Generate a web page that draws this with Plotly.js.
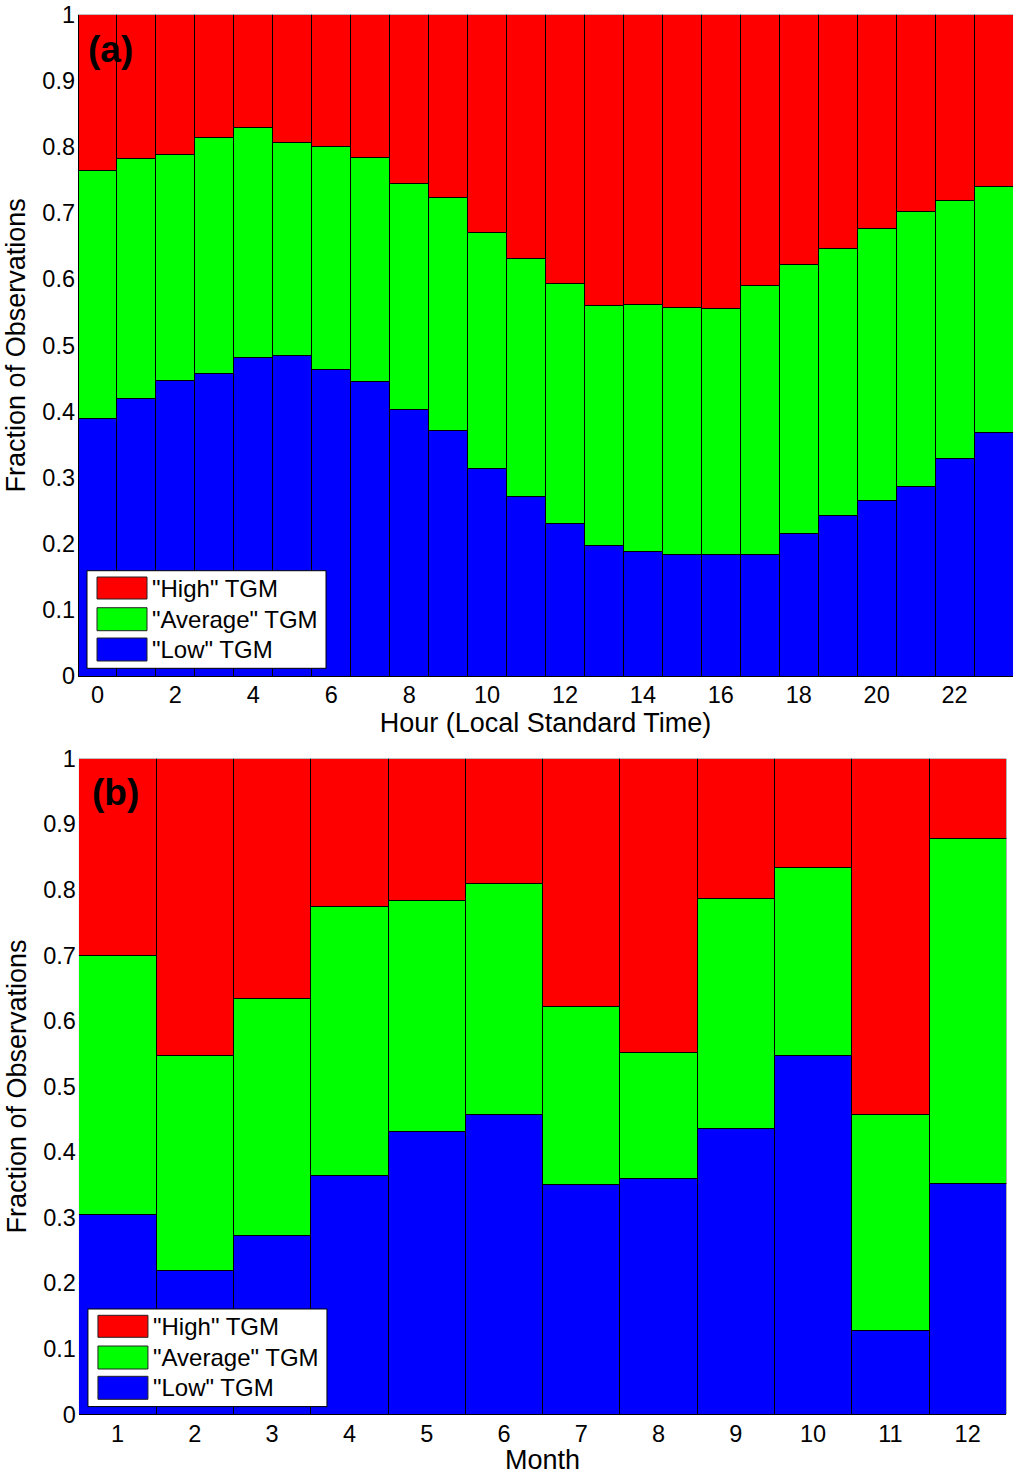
<!DOCTYPE html>
<html>
<head>
<meta charset="utf-8">
<script src="https://cdn.plot.ly/plotly-3.0.1.min.js"></script>
<style>
  html, body { margin: 0; padding: 0; background: #fff; }
  #chart { width: 1024px; height: 1475px; }
</style>
</head>
<body>
<div id="chart"></div>
<script>
// panel (a): fractions by hour of day
var hours = [0,1,2,3,4,5,6,7,8,9,10,11,12,13,14,15,16,17,18,19,20,21,22,23];
var lowHour = [0.390,0.419,0.447,0.457,0.481,0.485,0.463,0.445,0.403,0.372,0.314,0.272,
               0.230,0.198,0.189,0.184,0.184,0.184,0.215,0.243,0.266,0.287,0.329,0.368];
var avgHour = [0.375,0.363,0.341,0.358,0.349,0.321,0.338,0.339,0.341,0.351,0.357,0.360,
               0.363,0.362,0.373,0.374,0.372,0.406,0.407,0.404,0.410,0.415,0.390,0.372];
var highHour = [0.235,0.218,0.212,0.185,0.170,0.194,0.199,0.216,0.256,0.277,0.329,0.368,
                0.407,0.440,0.438,0.442,0.444,0.410,0.378,0.353,0.324,0.298,0.281,0.260];

// panel (b): fractions by month
var months = [1,2,3,4,5,6,7,8,9,10,11,12];
var lowMonth = [0.305,0.220,0.272,0.365,0.432,0.457,0.350,0.359,0.436,0.548,0.128,0.352];
var avgMonth = [0.395,0.328,0.362,0.410,0.352,0.352,0.272,0.193,0.350,0.286,0.330,0.527];
var highMonth = [0.300,0.452,0.366,0.225,0.216,0.191,0.378,0.448,0.214,0.166,0.542,0.121];

var yTicks = [0,0.1,0.2,0.3,0.4,0.5,0.6,0.7,0.8,0.9,1];
var hourTicks = [0,2,4,6,8,10,12,14,16,18,20,22];
var legendNames = ['"High" TGM', '"Average" TGM', '"Low" TGM'];

var RED = '#ff0000', GREEN = '#00ff00', BLUE = '#0000ff';
var FONT = 'Liberation Sans, Arial, sans-serif';

function bar(x, y, color, xa, ya) {
    return {
        type: 'bar', x: x, y: y, xaxis: xa, yaxis: ya,
        marker: { color: color, line: { color: '#000', width: 1 } },
        showlegend: false, hoverinfo: 'skip'
    };
}

var data = [
    bar(hours, lowHour, BLUE, 'x', 'y'),
    bar(hours, avgHour, GREEN, 'x', 'y'),
    bar(hours, highHour, RED, 'x', 'y'),
    bar(months, lowMonth, BLUE, 'x2', 'y2'),
    bar(months, avgMonth, GREEN, 'x2', 'y2'),
    bar(months, highMonth, RED, 'x2', 'y2')
];

var shapes = [];
var annotations = [];

// legend box drawn by hand, offsets in px from the axes' lower-left corner
function addLegend(ax, w, h) {
    var xr = ax.x + ' domain', yr = ax.y + ' domain';
    shapes.push({ type: 'rect', xref: xr, yref: yr, x0: 9 / w, x1: 248 / w, y0: 7.7 / h, y1: 105.3 / h,
                  fillcolor: '#fff', line: { color: '#000', width: 1 } });
    var colors = [RED, GREEN, BLUE];
    var rows = [[77, 99], [45.3, 68.3], [15, 38]];
    for (var i = 0; i < 3; i++) {
        shapes.push({ type: 'rect', xref: xr, yref: yr, x0: 19 / w, x1: 69 / w,
                      y0: rows[i][0] / h, y1: rows[i][1] / h,
                      fillcolor: colors[i], line: { color: '#222', width: 1 } });
        annotations.push({ xref: xr, yref: yr, x: 72 / w, y: (rows[i][0] + rows[i][1]) / 2 / h,
                           xanchor: 'left', yanchor: 'middle', showarrow: false,
                           text: legendNames[i], font: { family: FONT, size: 24, color: '#000' } });
    }
}

function addPanelLabel(ax, text, dx, dy, w, h) {
    annotations.push({ xref: ax.x + ' domain', yref: ax.y + ' domain', x: dx / w, y: 1 - dy / h,
                       xanchor: 'left', yanchor: 'middle', showarrow: false,
                       text: '<b>' + text + '</b>', font: { family: FONT, size: 37, color: '#000' } });
}

addLegend({ x: 'x', y: 'y' }, 935, 661.3);
addLegend({ x: 'x2', y: 'y2' }, 927.3, 655.6);
addPanelLabel({ x: 'x', y: 'y' }, '(a)', 8, 35, 935, 661.3);
addPanelLabel({ x: 'x2', y: 'y2' }, '(b)', 11, 33.5, 927.3, 655.6);

var tickFont = { family: FONT, size: 23.5, color: '#000' };
var titleFont = { family: FONT, size: 27, color: '#000' };

var layout = {
    width: 1024, height: 1475,
    margin: { l: 78, r: 0, t: 0, b: 0 },
    paper_bgcolor: '#fff', plot_bgcolor: '#fff',
    barmode: 'stack', bargap: 0,
    font: { family: FONT, color: '#000' },
    xaxis: {
        domain: [0, 0.9884], anchor: 'y', range: [-0.5, 23.5],
        tickvals: hourTicks, ticks: '', showgrid: false, zeroline: false,
        showline: true, linecolor: '#000', linewidth: 1,
        tickfont: tickFont, ticklabelstandoff: -2,
        title: { text: 'Hour (Local Standard Time)', font: titleFont, standoff: 2 }
    },
    yaxis: {
        domain: [0.54169, 0.99003], anchor: 'x', range: [0, 1],
        tickvals: yTicks, ticks: '', showgrid: false, zeroline: false,
        tickfont: tickFont, ticklabelstandoff: 2,
        title: { text: 'Fraction of Observations', font: titleFont, standoff: 8 }
    },
    xaxis2: {
        domain: [0.001, 0.9813], anchor: 'y2', range: [0.5, 12.5],
        tickvals: months, ticks: '', showgrid: false, zeroline: false,
        showline: true, linecolor: '#000', linewidth: 1,
        tickfont: tickFont, ticklabelstandoff: -2,
        title: { text: 'Month', font: titleFont, standoff: 2 }
    },
    yaxis2: {
        domain: [0.04115, 0.48563], anchor: 'x2', range: [0, 1],
        tickvals: yTicks, ticks: '', showgrid: false, zeroline: false,
        tickfont: tickFont, ticklabelstandoff: 2,
        title: { text: 'Fraction of Observations', font: titleFont, standoff: 8 }
    },
    shapes: shapes,
    annotations: annotations
};

Plotly.newPlot('chart', data, layout, { displayModeBar: false, staticPlot: true });
</script>
</body>
</html>
